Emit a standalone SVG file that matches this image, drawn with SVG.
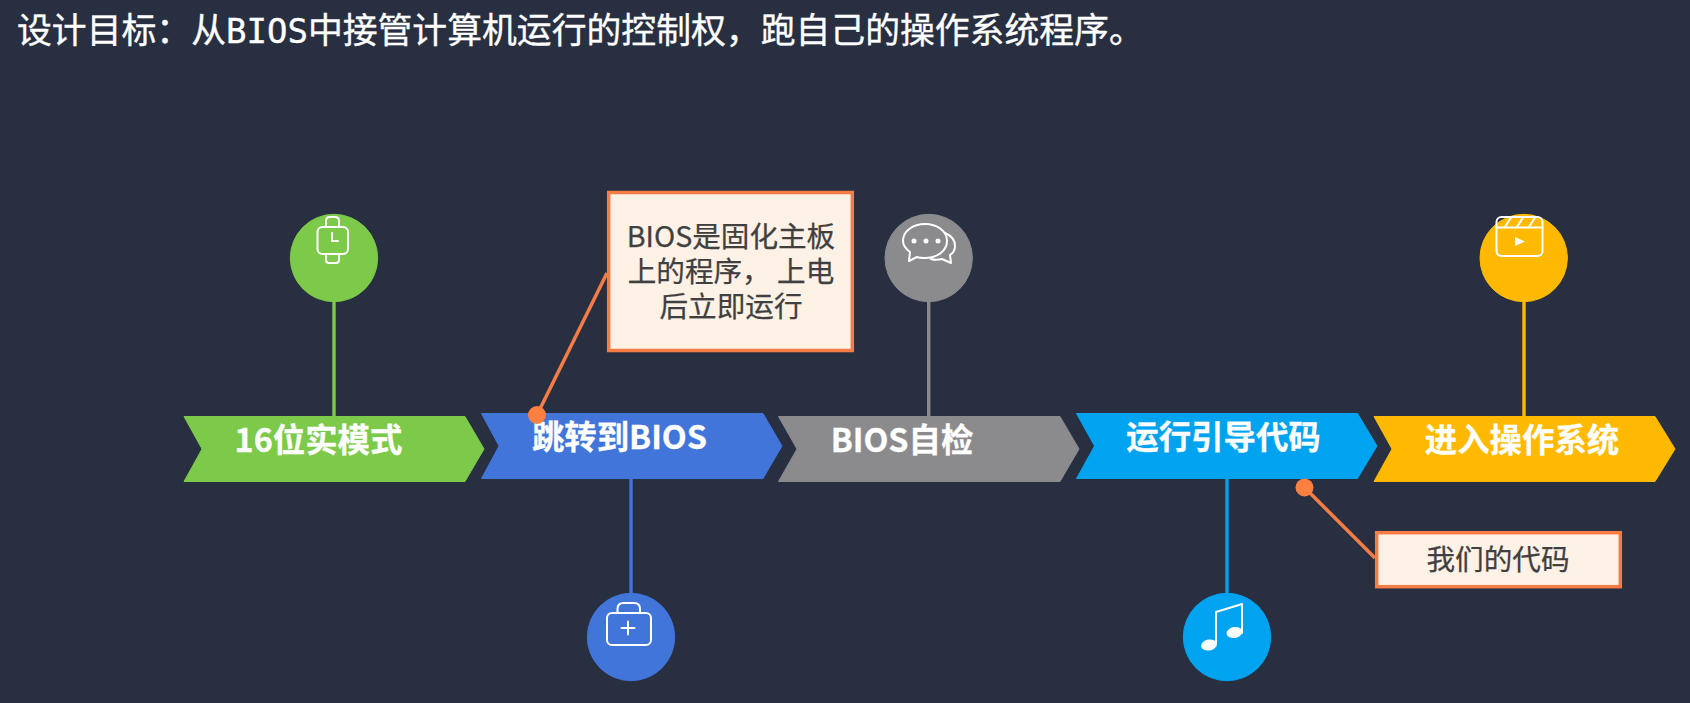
<svg xmlns="http://www.w3.org/2000/svg" width="1690" height="703" viewBox="0 0 1690 703">
<style>
text{font-family:"Noto Sans CJK SC","Noto Sans",sans-serif}
.title{font-size:34.85px;fill:#fff;stroke:#fff;stroke-width:.35}
.mono{font-family:"DejaVu Sans Mono","Liberation Mono",monospace;font-size:34px}
.lab{font-size:32.4px;font-weight:700;fill:#fff;stroke:#fff;stroke-width:.3;text-anchor:middle}
.note{font-size:28.6px;fill:#404040;stroke:#404040;stroke-width:.25;text-anchor:middle}
.box{fill:#FEF1E6;stroke:#F57C45;stroke-width:3.5}
.lead{stroke:#F57C45;stroke-width:3.5;fill:none}
.dot{fill:#FF7F41}
.stem{stroke-width:3.4;fill:none}
.ic{fill:none;stroke:#fff;stroke-width:2;stroke-linejoin:round;stroke-linecap:round}
.fw{fill:#fff;stroke:none}
.chev{stroke-width:1;stroke-linejoin:round}
.green{fill:#7DC949;stroke:#7DC949}
.blue{fill:#4175D9;stroke:#4175D9}
.grey{fill:#8B8B8E;stroke:#8B8B8E}
.cyan{fill:#00A3F0;stroke:#00A3F0}
.yellow{fill:#FFB900;stroke:#FFB900}
</style>
<rect width="1690" height="703" fill="#282F41"/>
<text id="title" class="title" x="17" y="43">设计目标：从<tspan class="mono">BIOS</tspan>中接管计算机运行的控制权，跑自己的操作系统程序。</text>

<g id="connectors">
<line class="stem" stroke="#7DC949" x1="334" y1="300" x2="334" y2="417"/>
<line class="stem" stroke="#4175D9" x1="631" y1="478" x2="631" y2="595"/>
<line class="stem" stroke="#8B8B8E" x1="928.7" y1="300" x2="928.7" y2="417"/>
<line class="stem" stroke="#00A3F0" x1="1227" y1="478" x2="1227" y2="595"/>
<line class="stem" stroke="#FFB900" x1="1524" y1="300" x2="1524" y2="417"/>
</g>

<g id="step1">
<path class="chev green" d="M184 416.500H465L484 449L465 481.500H184L202 449Z"/>
<text class="lab" x="318.500" y="452">16位实模式</text>
<circle cx="334" cy="258" r="43.700" class="green" stroke="none"/>
<g class="ic" stroke-width="1.8">
<rect x="317.500" y="227" width="30.500" height="27" rx="5"/>
<path d="M326 227V221Q326 217 330 217H335Q339 217 339 221V227M326 254V260Q326 263 329 263H336Q339 263 339 260V254M332 233V241H338"/>
</g>
</g>

<g id="step2">
<path class="chev blue" d="M481.500 413.500H763L782 446L763 478.500H481.500L499 446Z"/>
<text class="lab" x="619.500" y="449">跳转到BIOS</text>
<circle cx="631" cy="637" r="43.700" class="blue" stroke="none"/>
<g class="ic">
<rect x="607" y="613" width="44" height="32" rx="5"/>
<path d="M617.500 613V609Q617.500 603 623.500 603H634Q640 603 640 609V613M628 621.500V634.500M621.500 628H634.500"/>
</g>
</g>

<g id="step3">
<path class="chev grey" d="M778.500 416.500H1060L1079 449L1060 481.500H778.500L797 449Z"/>
<text class="lab" x="902" y="452">BIOS自检</text>
<circle cx="928.700" cy="258" r="43.700" class="grey" stroke="none"/>
<g class="ic">
<path d="M925 224C937 224 947 231 947 241C947 251 937 258 925 258C922 258 919 258 917 257L909 261L910 252C906 249 903 245 903 241C903 231 913 224 925 224Z"/>
<path d="M945 233C952 236 955 241 955 246C955 250 953 253 950 255L951 263L942 259C938 260 934 260 931 259"/>
</g>
<circle class="fw" cx="914" cy="241" r="2.500"/><circle class="fw" cx="926" cy="241" r="2.500"/><circle class="fw" cx="938" cy="241" r="2.500"/>
</g>

<g id="step4">
<path class="chev cyan" d="M1076.500 413.500H1357.500L1377 446L1357.500 478.500H1076.500L1094.500 446Z"/>
<text class="lab" x="1223.500" y="449">运行引导代码</text>
<circle cx="1227" cy="637" r="43.700" class="cyan" stroke="none"/>
<path class="ic" d="M1216 643V612L1242 604V633"/>
<ellipse class="fw" cx="1209" cy="645" rx="8" ry="5.500" transform="rotate(-10 1209 645)"/>
<ellipse class="fw" cx="1234.500" cy="632.500" rx="8" ry="5.500" transform="rotate(-10 1234.500 632.500)"/>
</g>

<g id="step5">
<path class="chev yellow" d="M1374 416.500H1655L1675 449L1655 481.500H1374L1392 449Z"/>
<text class="lab" x="1522" y="452">进入操作系统</text>
<circle cx="1523.700" cy="258" r="43.700" class="yellow" stroke="none"/>
<g class="ic">
<rect x="1496.500" y="217" width="46" height="39" rx="5"/>
<path d="M1496.500 227.500H1542.500M1505 227L1511 217.500M1517 227L1523 217.500M1529 227L1535 217.500"/>
</g>
<path class="fw" d="M1515 237L1525 241.500L1515 246Z"/>
</g>

<g id="note1">
<rect class="box" x="608.700" y="192.500" width="243.600" height="158"/>
<text class="note" x="731" y="247">BIOS是固化主板</text>
<text class="note" x="731" y="282">上的程序， 上电</text>
<text class="note" x="731" y="317">后立即运行</text>
</g>

<g id="note2">
<rect class="box" x="1376.700" y="532.700" width="243.600" height="54"/>
<text class="note" x="1498" y="570">我们的代码</text>
</g>

<g id="callouts">
<line class="lead" x1="607" y1="273" x2="537" y2="415"/>
<circle class="dot" cx="537" cy="415" r="9"/>
<line class="lead" x1="1375" y1="558" x2="1304" y2="487"/>
<circle class="dot" cx="1304.500" cy="487.500" r="9"/>
</g>
</svg>
